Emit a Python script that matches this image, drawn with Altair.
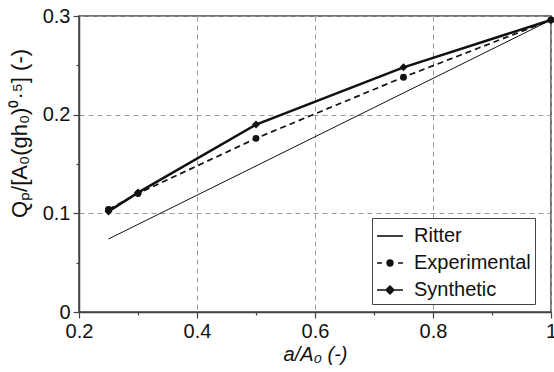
import altair as alt
import pandas as pd

# ---- data ----
series_names = ["Ritter", "Experimental", "Synthetic"]
x_ritter = [0.25, 1.0]
y_ritter = [0.074, 0.296]
x_exp = [0.25, 0.30, 0.50, 0.75, 1.0]
y_exp = [0.104, 0.120, 0.176, 0.238, 0.296]
x_syn = [0.25, 0.30, 0.50, 0.75, 1.0]
y_syn = [0.102, 0.121, 0.190, 0.248, 0.296]

x_ticks = [0.2, 0.3, 0.4, 0.5, 0.6, 0.7, 0.8, 0.9, 1.0]
y_ticks = [0.0, 0.05, 0.1, 0.15, 0.2, 0.25, 0.3]

df_r = pd.DataFrame({"x": x_ritter, "y": y_ritter, "series": "Ritter"})
df_e = pd.DataFrame({"x": x_exp, "y": y_exp, "series": "Experimental"})
df_s = pd.DataFrame({"x": x_syn, "y": y_syn, "series": "Synthetic"})
df_leg = pd.DataFrame({"series": series_names})

FONT = "Liberation Sans"
INK = "#111111"
FS = 20

x_major = "abs(round(datum.value*10)) % 2 == 0"
y_major = "abs(round(datum.value*20)) % 2 == 0"

xenc = alt.X(
    "x:Q",
    scale=alt.Scale(domain=[0.2, 1.0], nice=False, zero=False),
    axis=alt.Axis(
        values=x_ticks,
        title="a/A₀ (-)",
        labelExpr=f"({x_major}) ? format(datum.value, '~g') : ''",
        tickSize={"condition": {"test": x_major, "value": 6}, "value": 3},
        gridOpacity={"condition": {"test": x_major, "value": 1}, "value": 0},
        titleFontStyle="italic",
        titlePadding=3,
    ),
)
yenc = alt.Y(
    "y:Q",
    scale=alt.Scale(domain=[0, 0.3], nice=False),
    axis=alt.Axis(
        values=y_ticks,
        title="Qₚ/[A₀(gh₀)⁰·⁵] (-)",
        labelExpr=f"({y_major}) ? format(datum.value, '~g') : ''",
        tickSize={"condition": {"test": y_major, "value": 6}, "value": 3},
        gridOpacity={"condition": {"test": y_major, "value": 1}, "value": 0},
        titleX=-60,
        titleY=117,
        titleAlign="center",
        titleBaseline="middle",
        titleAngle=270,
        titleFontSize=22,
    ),
)

ritter = alt.Chart(df_r).mark_line(color=INK, strokeWidth=1).encode(x=xenc, y=yenc)
exp_line = alt.Chart(df_e).mark_line(color=INK, strokeWidth=1.7, strokeDash=[6, 4]).encode(x=xenc, y=yenc)
exp_pts = alt.Chart(df_e).mark_point(color=INK, filled=True, shape="circle", size=48, opacity=1).encode(x=xenc, y=yenc)
syn_line = alt.Chart(df_s).mark_line(color=INK, strokeWidth=2.5).encode(x=xenc, y=yenc)
syn_pts = alt.Chart(df_s).mark_point(color=INK, filled=True, shape="diamond", size=65, opacity=1).encode(x=xenc, y=yenc)

dot = ("M-0.22,0A0.22,0.22 0 1,0 0.22,0A0.22,0.22 0 1,0 -0.22,0Z"
       "M-0.12,0A0.12,0.12 0 1,0 0.12,0A0.12,0.12 0 1,0 -0.12,0Z"
       "M-0.04,0H0.04")
diamond = "M0,-0.3L0.3,0L0,0.3L-0.3,0ZM0,-0.18L0.18,0L0,0.18L-0.18,0ZM-0.08,0H0.08"
legend_paths = [
    "M-1,0H1",
    "M-1,0H-0.62M0.62,0H1" + dot,
    "M-1,0H1" + diamond,
]
legend_layer = alt.Chart(df_leg).mark_point(filled=False, color=INK, opacity=0).encode(
    shape=alt.Shape(
        "series:N",
        scale=alt.Scale(domain=series_names, range=legend_paths),
        legend=alt.Legend(
            title=None,
            orient="none",
            legendX=293,
            legendY=202,
            direction="vertical",
            padding=4,
            strokeColor="#444444",
            fillColor="white",
            symbolSize=676,
            symbolOpacity=1,
            symbolFillColor=INK,
            symbolStrokeColor=INK,
            symbolStrokeWidth=1.6,
            labelFontSize=FS,
            labelFont=FONT,
            labelColor=INK,
            labelOffset=10,
            rowPadding=3,
            offset=0,
        ),
    )
)

chart = (
    alt.layer(ritter, exp_line, syn_line, exp_pts, syn_pts, legend_layer)
    .properties(
        width=472,
        height=296,
        autosize=alt.AutoSizeParams(type="none"),
        padding={"left": 79, "top": 16, "right": 3, "bottom": 60},
        background="white",
    )
    .configure_view(stroke="#444444", strokeWidth=1.5)
    .configure_axis(
        labelFont=FONT,
        titleFont=FONT,
        labelFontSize=FS,
        titleFontSize=FS,
        labelColor=INK,
        titleColor=INK,
        titleFontWeight="normal",
        domainColor="#444444",
        domainWidth=1.5,
        tickColor="#444444",
        tickWidth=1.2,
        gridColor="#9a9a9a",
        gridDash=[5, 4],
        gridWidth=1,
        labelPadding=3,
        labelFlush=False,
        labelOverlap=False,
    )
)

chart.save("out.html", embed_options={"renderer": "svg", "actions": False})
